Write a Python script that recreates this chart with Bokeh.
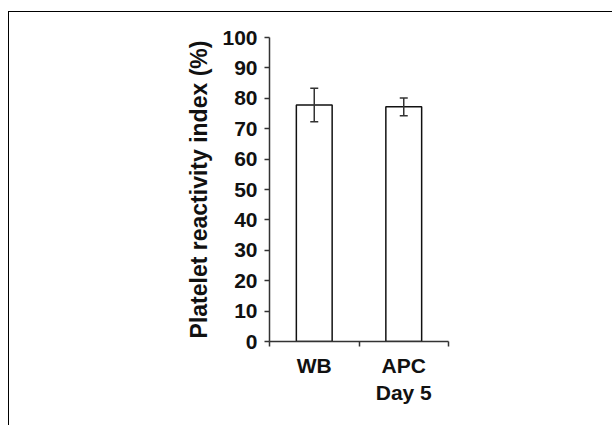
from bokeh.plotting import figure
from bokeh.models import Range1d, FixedTicker, ColumnDataSource, Whisker, TeeHead
from bokeh.embed import file_html
from bokeh.resources import INLINE

categories = ["WB", "APC\nDay 5"]
means = [77.8, 77.2]
errors = [5.5, 2.9]
y_ticks = [0, 10, 20, 30, 40, 50, 60, 70, 80, 90, 100]

xpos = [i + 0.5 for i in range(len(categories))]
upper = [m + e for m, e in zip(means, errors)]
lower = [m - e for m, e in zip(means, errors)]
src = ColumnDataSource(dict(x=xpos, top=means, upper=upper, lower=lower))

p = figure(width=604, height=414, output_backend="svg", toolbar_location=None,
           x_range=Range1d(0, len(categories)), y_range=Range1d(0, 100),
           min_border_left=260, min_border_right=165, min_border_top=25, min_border_bottom=85)
p.styles = {"margin-left": "8px", "margin-top": "11px",
            "border-left": "1px solid #000", "border-top": "1px solid #000"}
p.outline_line_color = None
p.grid.visible = False
p.background_fill_color = "white"
p.border_fill_color = "white"

p.vbar(x="x", top="top", width=0.4, bottom=0, source=src,
       fill_color="white", line_color="#111111", line_width=1.5)
w = Whisker(base="x", upper="upper", lower="lower", source=src, level="overlay",
            line_color="#333333", line_width=1.5,
            upper_head=TeeHead(size=8, line_color="#333333", line_width=1.5),
            lower_head=TeeHead(size=8, line_color="#333333", line_width=1.5))
p.add_layout(w)

font = "Liberation Sans"
ya = p.yaxis[0]
ya.ticker = FixedTicker(ticks=y_ticks, minor_ticks=[])
ya.axis_label = "Platelet reactivity index (%)"
ya.axis_label_text_font = font
ya.axis_label_text_font_style = "bold"
ya.axis_label_text_font_size = "23px"
ya.axis_label_text_color = "#111111"
ya.axis_label_standoff = 7
ya.major_label_text_font = font
ya.major_label_text_font_style = "bold"
ya.major_label_text_font_size = "21px"
ya.major_label_text_color = "#111111"
ya.major_label_standoff = 7
ya.major_tick_in = 0
ya.major_tick_out = 5
ya.axis_line_color = "#333333"
ya.major_tick_line_color = "#333333"
ya.axis_line_width = 1.5
ya.major_tick_line_width = 1.5

xa = p.xaxis[0]
xa.ticker = FixedTicker(ticks=xpos, minor_ticks=[i for i in range(len(categories) + 1)])
xa.major_label_overrides = {x: c for x, c in zip(xpos, categories)}
xa.major_label_text_font = font
xa.major_label_text_font_style = "bold"
xa.major_label_text_font_size = "21px"
xa.major_label_text_color = "#111111"
xa.major_label_standoff = 6
xa.major_tick_line_color = None
xa.minor_tick_in = 0
xa.minor_tick_out = 5
xa.minor_tick_line_color = "#333333"
xa.minor_tick_line_width = 1.5
xa.axis_line_color = "#333333"
xa.axis_line_width = 1.5

open("out.html", "w").write(file_html(p, INLINE))
